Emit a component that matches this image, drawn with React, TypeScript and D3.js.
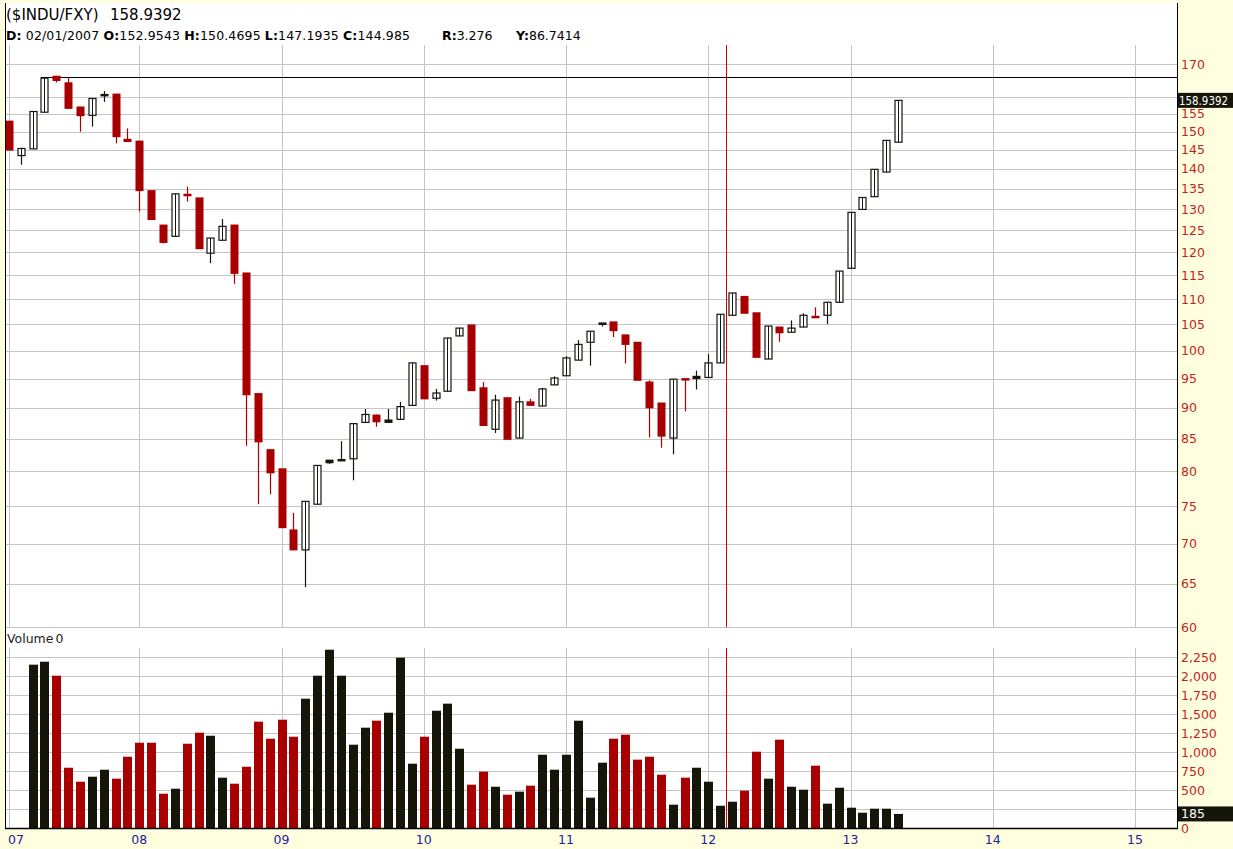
import React from 'react';
import * as d3 from 'd3';

// ---- data (monthly candles, Feb 2007 .. May 2013) ----
const opens = [152.95,143.5,145.3,155.5,166.2,164.2,157.0,154.6,160.6,160.8,147.3,147.4,134.5,126.2,123.6,133.6,132.7,119.8,122.7,126.2,115.5,92.4,83.3,80.4,71.8,69.2,75.3,81.7,81.8,81.9,87.6,88.8,87.6,88.1,90.4,97.3,91.6,92.8,102.8,104.9,93.4,86.5,91.7,85.1,91.0,90.3,93.9,95.5,98.3,101.6,105.3,105.5,103.0,101.6,94.4,90.8,85.1,95.0,95.0,95.2,97.8,106.8,110.6,107.3,98.5,104.5,103.5,104.5,106.6,106.8,109.4,116.5,129.9,133.0,139.2,147.1];
const highs = [152.95,145.6,155.8,166.0,166.3,165.9,157.0,159.5,161.7,160.9,150.9,147.4,134.5,126.2,133.7,135.5,132.7,123.2,127.6,126.2,115.5,92.4,83.3,80.4,74.1,75.7,80.9,81.7,84.6,87.4,89.8,88.9,89.8,91.0,97.8,97.3,93.2,102.4,104.3,104.9,94.4,92.2,91.7,91.9,91.5,93.4,95.4,99.0,102.0,103.7,105.3,105.5,103.0,101.6,94.7,90.8,94.9,95.0,96.4,99.4,107.0,111.3,110.6,107.3,104.7,104.5,105.8,107.2,108.4,109.4,115.9,129.2,132.8,139.9,147.6,158.94];
const lows = [144.985,141.1,145.3,155.5,164.3,156.6,150.0,151.4,158.5,146.8,147.3,129.4,127.5,122.0,123.6,131.8,120.8,117.6,122.7,113.2,83.9,75.3,76.7,72.1,69.2,64.6,75.3,81.1,81.6,78.7,87.6,86.9,87.6,88.1,90.4,91.5,91.2,92.8,102.8,92.9,87.1,85.9,84.9,85.1,90.4,90.3,93.9,95.5,98.3,97.3,104.6,102.6,97.7,94.7,85.2,83.6,82.6,89.4,93.1,95.2,97.8,106.8,107.2,98.8,98.5,101.7,103.5,104.5,106.4,105.1,109.4,116.5,129.9,133.0,139.2,147.1];
const closes = [144.985,145.4,155.7,165.6,164.9,156.6,154.5,159.5,160.7,148.6,147.9,134.5,127.5,122.2,133.7,133.5,120.8,123.2,125.9,115.4,92.2,84.5,79.8,72.1,69.2,75.7,80.9,81.3,81.6,87.4,88.9,87.7,88.0,90.2,97.8,91.5,92.5,102.4,104.3,92.9,87.1,91.3,84.9,91.0,90.4,93.2,95.1,98.7,101.2,103.7,105.0,103.8,101.2,94.7,90.0,85.4,94.9,94.8,95.4,97.8,107.0,111.3,107.2,98.8,104.7,103.4,104.3,106.8,106.4,109.4,115.9,129.2,132.8,139.9,147.6,158.94];
const volumes = [0,0,2149,2188,2004,793,609,675,767,649,938,1122,1122,451,517,1109,1254,1214,662,583,806,1399,1175,1425,1201,1701,2004,2346,2004,1096,1320,1412,1517,2241,846,1201,1543,1636,1043,570,741,543,438,478,557,964,767,964,1412,399,859,1175,1228,899,938,701,307,662,793,609,293,346,491,1004,649,1162,543,504,820,320,530,267,201,254,254,185];

const yearLabels = ['07','08','09','10','11','12','13','14','15'];
const yearIndex = [0,11,23,35,47,59,71,83,95];

const priceGridValues = [60,65,70,75,80,85,90,95,100,105,110,115,120,125,130,135,140,145,150,155,160,170];
const priceLabelValues = [60,65,70,75,80,85,90,95,100,105,110,115,120,125,130,135,140,145,150,155,170];
const volumeGridValues = [250,500,750,1000,1250,1500,1750,2000,2250];
const volumeLabelValues = [0,500,750,1000,1250,1500,1750,2000,2250];

const headerLabels = ['D:', 'O:', 'H:', 'L:', 'C:'];
const headerValues = [' 02/01/2007 ', '152.9543 ', '150.4695 ', '147.1935 ', '144.985'];

const highLineValue = 166.0;
const highLineStartIndex = 3;
const markerIndex = 60.5;
const lastValue = 158.9392;
const lastVolume = 185;

const RED = '#a80000';
const BLK = '#15150a';
const GRID = '#c4c4c4';
const YEL = '#ffffe0';
const FONT = '"DejaVu Sans", Verdana, sans-serif';

export default function App() {
  const W = 1233, H = 849;
  const L = 5, R = 1177, T = 3, B = 828;
  const priceTop = 45, priceBottom = 627;
  const volTop = 648;

  const x = d3.scaleLinear().domain([0, 95]).range([8.9, 1135]);
  const y = d3.scaleLog().domain([60, 170]).range([627, 64]);
  const yv = d3.scaleLinear().domain([0, 2250]).range([828, 657]);
  const fmt = d3.format(',');

  const bw = 7;
  const vbw = 9;

  const candles = opens.map((o, i) => {
    const c = closes[i], h = highs[i], l = lows[i];
    const prev = i > 0 ? closes[i - 1] : o;
    const up = c >= prev;
    const color = up ? BLK : RED;
    const hollow = c > o;
    const cx = Math.round(x(i)) + 0.5;
    const yTop = y(Math.max(o, c));
    const yBot = y(Math.min(o, c));
    const yH = y(h), yL = y(l);
    const bh = Math.max(yBot - yTop, 1.5);
    const els: any[] = [];
    if (yH < yTop - 0.5) els.push(<line key="wh" x1={cx} x2={cx} y1={yH} y2={yTop} stroke={color} strokeWidth={1.2} />);
    if (yL > yBot + 0.5) els.push(<line key="wl" x1={cx} x2={cx} y1={yBot} y2={yL} stroke={color} strokeWidth={1.2} />);
    if (hollow && bh > 2.5) {
      els.push(<rect key="b" x={cx - bw / 2} y={yTop} width={bw} height={bh} fill="#fff" stroke={color} strokeWidth={1.2} />);
      els.push(<line key="c" x1={cx} x2={cx} y1={yTop} y2={yTop + bh} stroke={color} strokeWidth={1} />);
    } else {
      els.push(<rect key="b" x={cx - bw / 2 - 0.5} y={yTop - 0.5} width={bw + 1} height={bh + 1} fill={color} />);
    }
    return <g key={i}>{els}</g>;
  });

  const vbars = volumes.map((v, i) => {
    if (!v) return null;
    const prev = i > 0 ? closes[i - 1] : opens[i];
    const color = closes[i] >= prev ? BLK : RED;
    const cx = Math.round(x(i)) + 0.5;
    return <rect key={i} x={cx - vbw / 2} y={yv(v)} width={vbw} height={yv(0) - yv(v)} fill={color} />;
  });

  const mx = Math.round(x(markerIndex)) + 0.5;
  const axFs = 12.5;

  return (
    <svg width={W} height={H} style={{ position: 'absolute', left: 0, top: 0, display: 'block' }} fontFamily={FONT}>
      <rect x={0} y={0} width={W} height={H} fill={YEL} />
      <rect x={L} y={T} width={R - L} height={B - T} fill="#fff" />

      {/* vertical year gridlines */}
      {yearIndex.map((yi, k) => {
        const gx = Math.round(x(yi)) + 0.5;
        return (
          <g key={'vg' + k}>
            <line x1={gx} x2={gx} y1={priceTop} y2={priceBottom} stroke={GRID} />
            <line x1={gx} x2={gx} y1={volTop} y2={B} stroke={GRID} />
          </g>
        );
      })}
      {/* price horizontal gridlines */}
      {priceGridValues.map((v) => (
        <line key={'pg' + v} x1={L} x2={R} y1={Math.round(y(v)) + 0.5} y2={Math.round(y(v)) + 0.5} stroke={GRID} />
      ))}
      {/* volume horizontal gridlines */}
      {volumeGridValues.map((v) => (
        <line key={'vgl' + v} x1={L} x2={R} y1={Math.round(yv(v)) + 0.5} y2={Math.round(yv(v)) + 0.5} stroke={GRID} />
      ))}

      {/* high line */}
      <line x1={x(highLineStartIndex) - bw / 2} x2={R} y1={Math.round(y(highLineValue)) + 0.5} y2={Math.round(y(highLineValue)) + 0.5} stroke="#000" strokeWidth={1} />

      {/* marker vertical line */}
      <line x1={mx} x2={mx} y1={priceTop} y2={priceBottom} stroke="#cc0000" strokeWidth={1} />
      <line x1={mx} x2={mx} y1={volTop} y2={B} stroke="#cc0000" strokeWidth={1} />

      {candles}
      {vbars}

      {/* borders */}
      <line x1={L + 0.5} x2={L + 0.5} y1={T} y2={B} stroke="#000" />
      <line x1={R + 0.5} x2={R + 0.5} y1={T} y2={B} stroke="#000" />
      <line x1={L} x2={R + 1} y1={B + 0.5} y2={B + 0.5} stroke="#000" strokeWidth={1.5} />

      {/* header */}
      <text x={6} y={20} fontSize={15} fill="#000">($INDU/FXY)</text>
      <text x={110} y={20} fontSize={15} fill="#000">158.9392</text>
      <text x={6} y={40} fontSize={12.5} fill="#000" textLength={404} lengthAdjust="spacing">
        {headerLabels.map((lab, k) => (
          <React.Fragment key={'h' + k}>
            <tspan fontWeight="bold">{lab}</tspan><tspan>{headerValues[k]}</tspan>
          </React.Fragment>
        ))}
      </text>
      <text x={442} y={40} fontSize={12.5} fill="#000"><tspan fontWeight="bold">R:</tspan><tspan>3.276</tspan></text>
      <text x={516} y={40} fontSize={12.5} fill="#000"><tspan fontWeight="bold">Y:</tspan><tspan>86.7414</tspan></text>

      {/* volume label */}
      <text x={7} y={643} fontSize={12.5} fill="#222">Volume<tspan dx={2}>0</tspan></text>

      {/* price axis labels */}
      {priceLabelValues.map((v) => (
        <text key={'pl' + v} x={1181} y={y(v)} dy="0.36em" fontSize={axFs} fill="#c41e1e">{v}</text>
      ))}
      {/* volume axis labels */}
      {volumeLabelValues.map((v) => (
        <text key={'vl' + v} x={1181} y={yv(v)} dy="0.36em" fontSize={axFs} fill="#c41e1e">{fmt(v)}</text>
      ))}

      {/* last value markers */}
      <rect x={R + 1} y={y(lastValue) - 7.5} width={W - R} height={15} fill={BLK} />
      <text x={1179} y={y(lastValue)} dy="0.36em" fontSize={11.5} fill="#fff" textLength={49} lengthAdjust="spacingAndGlyphs">{lastValue.toFixed(4)}</text>
      <rect x={R + 1} y={yv(lastVolume) - 7.5} width={W - R} height={15} fill={BLK} />
      <text x={1181} y={yv(lastVolume)} dy="0.36em" fontSize={axFs} fill="#fff">{fmt(lastVolume)}</text>

      {/* year labels */}
      {yearIndex.map((yi, k) => (
        <text key={'yl' + k} x={Math.max(x(yi), 16)} y={839} dy="0.36em" textAnchor="middle" fontSize={axFs} fill="#2020a0">{yearLabels[k]}</text>
      ))}
    </svg>
  );
}
